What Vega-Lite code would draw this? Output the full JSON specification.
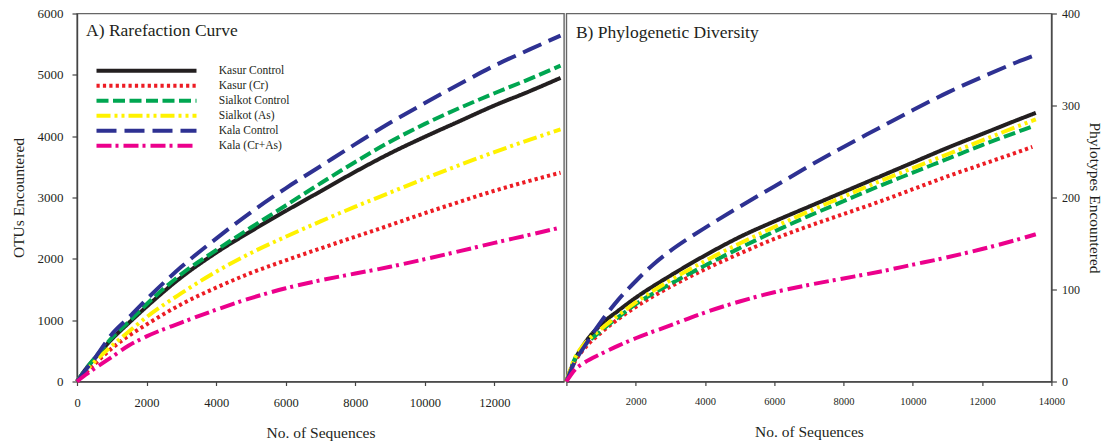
{
  "$schema": "https://vega.github.io/schema/vega-lite/v6.json",
  "background": "white",
  "padding": {"left": 10, "top": 6.5, "right": 2, "bottom": 2},
  "bounds": "flush",
  "spacing": 2.4,
  "config": {
    "view": {"stroke": "#666666", "strokeWidth": 1.4},
    "axis": {
      "labelFont": "Liberation Serif", "titleFont": "Liberation Serif",
      "labelColor": "#231f20", "titleColor": "#231f20",
      "domainColor": "#444444", "tickColor": "#444444", "domainWidth": 1.4, "tickWidth": 1.2,
      "grid": false, "titleFontWeight": "normal", "labelFontSize": 12.5, "titleFontSize": 15.5, "tickSize": 5, "format": "d", "labelFlush": false
    },
    "line": {"strokeWidth": 4, "strokeCap": "butt", "interpolate": "monotone"}
  },
  "datasets": {
    "otu": [
      {"series":"Kasur Control","seq":0,"value":0},{"series":"Kasur Control","seq":250,"value":200},{"series":"Kasur Control","seq":500,"value":370},{"series":"Kasur Control","seq":1000,"value":690},{"series":"Kasur Control","seq":1500,"value":960},{"series":"Kasur Control","seq":2000,"value":1220},{"series":"Kasur Control","seq":3000,"value":1700},{"series":"Kasur Control","seq":4000,"value":2100},{"series":"Kasur Control","seq":5000,"value":2450},{"series":"Kasur Control","seq":6000,"value":2780},{"series":"Kasur Control","seq":7000,"value":3100},{"series":"Kasur Control","seq":8000,"value":3420},{"series":"Kasur Control","seq":9000,"value":3720},{"series":"Kasur Control","seq":10000,"value":3990},{"series":"Kasur Control","seq":11000,"value":4245},{"series":"Kasur Control","seq":12000,"value":4500},{"series":"Kasur Control","seq":13000,"value":4730},{"series":"Kasur Control","seq":13900,"value":4950},
      {"series":"Kasur  (Cr)","seq":0,"value":0},{"series":"Kasur  (Cr)","seq":250,"value":140},{"series":"Kasur  (Cr)","seq":500,"value":280},{"series":"Kasur  (Cr)","seq":1000,"value":540},{"series":"Kasur  (Cr)","seq":1500,"value":750},{"series":"Kasur  (Cr)","seq":2000,"value":930},{"series":"Kasur  (Cr)","seq":3000,"value":1260},{"series":"Kasur  (Cr)","seq":4000,"value":1530},{"series":"Kasur  (Cr)","seq":5000,"value":1770},{"series":"Kasur  (Cr)","seq":6000,"value":1975},{"series":"Kasur  (Cr)","seq":7000,"value":2170},{"series":"Kasur  (Cr)","seq":8000,"value":2360},{"series":"Kasur  (Cr)","seq":9000,"value":2550},{"series":"Kasur  (Cr)","seq":10000,"value":2745},{"series":"Kasur  (Cr)","seq":11000,"value":2930},{"series":"Kasur  (Cr)","seq":12000,"value":3110},{"series":"Kasur  (Cr)","seq":13000,"value":3270},{"series":"Kasur  (Cr)","seq":13900,"value":3405},
      {"series":"Sialkot Control","seq":0,"value":0},{"series":"Sialkot Control","seq":250,"value":200},{"series":"Sialkot Control","seq":500,"value":375},{"series":"Sialkot Control","seq":1000,"value":710},{"series":"Sialkot Control","seq":1500,"value":980},{"series":"Sialkot Control","seq":2000,"value":1260},{"series":"Sialkot Control","seq":3000,"value":1750},{"series":"Sialkot Control","seq":4000,"value":2140},{"series":"Sialkot Control","seq":5000,"value":2510},{"series":"Sialkot Control","seq":6000,"value":2870},{"series":"Sialkot Control","seq":7000,"value":3230},{"series":"Sialkot Control","seq":8000,"value":3580},{"series":"Sialkot Control","seq":9000,"value":3910},{"series":"Sialkot Control","seq":10000,"value":4200},{"series":"Sialkot Control","seq":11000,"value":4460},{"series":"Sialkot Control","seq":12000,"value":4700},{"series":"Sialkot Control","seq":13000,"value":4930},{"series":"Sialkot Control","seq":13900,"value":5150},
      {"series":"Sialkot  (As)","seq":0,"value":0},{"series":"Sialkot  (As)","seq":250,"value":170},{"series":"Sialkot  (As)","seq":500,"value":320},{"series":"Sialkot  (As)","seq":1000,"value":580},{"series":"Sialkot  (As)","seq":1500,"value":820},{"series":"Sialkot  (As)","seq":2000,"value":1050},{"series":"Sialkot  (As)","seq":3000,"value":1440},{"series":"Sialkot  (As)","seq":4000,"value":1790},{"series":"Sialkot  (As)","seq":5000,"value":2095},{"series":"Sialkot  (As)","seq":6000,"value":2360},{"series":"Sialkot  (As)","seq":7000,"value":2610},{"series":"Sialkot  (As)","seq":8000,"value":2850},{"series":"Sialkot  (As)","seq":9000,"value":3080},{"series":"Sialkot  (As)","seq":10000,"value":3310},{"series":"Sialkot  (As)","seq":11000,"value":3530},{"series":"Sialkot  (As)","seq":12000,"value":3740},{"series":"Sialkot  (As)","seq":13000,"value":3940},{"series":"Sialkot  (As)","seq":13900,"value":4110},
      {"series":"Kala Control","seq":0,"value":0},{"series":"Kala Control","seq":250,"value":190},{"series":"Kala Control","seq":500,"value":370},{"series":"Kala Control","seq":1000,"value":770},{"series":"Kala Control","seq":1500,"value":1050},{"series":"Kala Control","seq":2000,"value":1340},{"series":"Kala Control","seq":3000,"value":1870},{"series":"Kala Control","seq":4000,"value":2330},{"series":"Kala Control","seq":5000,"value":2760},{"series":"Kala Control","seq":6000,"value":3150},{"series":"Kala Control","seq":7000,"value":3510},{"series":"Kala Control","seq":8000,"value":3870},{"series":"Kala Control","seq":9000,"value":4220},{"series":"Kala Control","seq":10000,"value":4540},{"series":"Kala Control","seq":11000,"value":4850},{"series":"Kala Control","seq":12000,"value":5150},{"series":"Kala Control","seq":13000,"value":5410},{"series":"Kala Control","seq":13900,"value":5640},
      {"series":"Kala (Cr+As)","seq":0,"value":0},{"series":"Kala (Cr+As)","seq":250,"value":110},{"series":"Kala (Cr+As)","seq":500,"value":210},{"series":"Kala (Cr+As)","seq":1000,"value":400},{"series":"Kala (Cr+As)","seq":1500,"value":590},{"series":"Kala (Cr+As)","seq":2000,"value":735},{"series":"Kala (Cr+As)","seq":3000,"value":960},{"series":"Kala (Cr+As)","seq":4000,"value":1170},{"series":"Kala (Cr+As)","seq":5000,"value":1360},{"series":"Kala (Cr+As)","seq":6000,"value":1520},{"series":"Kala (Cr+As)","seq":7000,"value":1650},{"series":"Kala (Cr+As)","seq":8000,"value":1760},{"series":"Kala (Cr+As)","seq":9000,"value":1870},{"series":"Kala (Cr+As)","seq":10000,"value":1995},{"series":"Kala (Cr+As)","seq":11000,"value":2125},{"series":"Kala (Cr+As)","seq":12000,"value":2260},{"series":"Kala (Cr+As)","seq":13000,"value":2390},{"series":"Kala (Cr+As)","seq":13900,"value":2510}
    ],
    "pd": [
      {"series":"Kasur Control","seq":0,"value":0},{"series":"Kasur Control","seq":250,"value":24},{"series":"Kasur Control","seq":500,"value":40},{"series":"Kasur Control","seq":1000,"value":62},{"series":"Kasur Control","seq":1500,"value":77},{"series":"Kasur Control","seq":2000,"value":91},{"series":"Kasur Control","seq":3000,"value":115},{"series":"Kasur Control","seq":4000,"value":137},{"series":"Kasur Control","seq":5000,"value":157},{"series":"Kasur Control","seq":6000,"value":174},{"series":"Kasur Control","seq":7000,"value":190},{"series":"Kasur Control","seq":8000,"value":206},{"series":"Kasur Control","seq":9000,"value":222},{"series":"Kasur Control","seq":10000,"value":238},{"series":"Kasur Control","seq":11000,"value":254},{"series":"Kasur Control","seq":12000,"value":269},{"series":"Kasur Control","seq":13000,"value":284},{"series":"Kasur Control","seq":13550,"value":292},
      {"series":"Kasur  (Cr)","seq":0,"value":0},{"series":"Kasur  (Cr)","seq":250,"value":22},{"series":"Kasur  (Cr)","seq":500,"value":35},{"series":"Kasur  (Cr)","seq":1000,"value":53},{"series":"Kasur  (Cr)","seq":1500,"value":68},{"series":"Kasur  (Cr)","seq":2000,"value":81},{"series":"Kasur  (Cr)","seq":3000,"value":103},{"series":"Kasur  (Cr)","seq":4000,"value":122},{"series":"Kasur  (Cr)","seq":5000,"value":139},{"series":"Kasur  (Cr)","seq":6000,"value":155},{"series":"Kasur  (Cr)","seq":7000,"value":169},{"series":"Kasur  (Cr)","seq":8000,"value":182},{"series":"Kasur  (Cr)","seq":9000,"value":195},{"series":"Kasur  (Cr)","seq":10000,"value":209},{"series":"Kasur  (Cr)","seq":11000,"value":223},{"series":"Kasur  (Cr)","seq":12000,"value":236},{"series":"Kasur  (Cr)","seq":13000,"value":249},{"series":"Kasur  (Cr)","seq":13450,"value":255},
      {"series":"Sialkot Control","seq":0,"value":0},{"series":"Sialkot Control","seq":250,"value":25},{"series":"Sialkot Control","seq":500,"value":38},{"series":"Sialkot Control","seq":1000,"value":55},{"series":"Sialkot Control","seq":1500,"value":70},{"series":"Sialkot Control","seq":2000,"value":84},{"series":"Sialkot Control","seq":3000,"value":106},{"series":"Sialkot Control","seq":4000,"value":126},{"series":"Sialkot Control","seq":5000,"value":145},{"series":"Sialkot Control","seq":6000,"value":163},{"series":"Sialkot Control","seq":7000,"value":180},{"series":"Sialkot Control","seq":8000,"value":196},{"series":"Sialkot Control","seq":9000,"value":212},{"series":"Sialkot Control","seq":10000,"value":227},{"series":"Sialkot Control","seq":11000,"value":242},{"series":"Sialkot Control","seq":12000,"value":257},{"series":"Sialkot Control","seq":13000,"value":271},{"series":"Sialkot Control","seq":13500,"value":278},
      {"series":"Sialkot  (As)","seq":0,"value":0},{"series":"Sialkot  (As)","seq":250,"value":26},{"series":"Sialkot  (As)","seq":500,"value":40},{"series":"Sialkot  (As)","seq":1000,"value":57},{"series":"Sialkot  (As)","seq":1500,"value":72},{"series":"Sialkot  (As)","seq":2000,"value":86},{"series":"Sialkot  (As)","seq":3000,"value":110},{"series":"Sialkot  (As)","seq":4000,"value":131},{"series":"Sialkot  (As)","seq":5000,"value":150},{"series":"Sialkot  (As)","seq":6000,"value":168},{"series":"Sialkot  (As)","seq":7000,"value":185},{"series":"Sialkot  (As)","seq":8000,"value":201},{"series":"Sialkot  (As)","seq":9000,"value":217},{"series":"Sialkot  (As)","seq":10000,"value":232},{"series":"Sialkot  (As)","seq":11000,"value":247},{"series":"Sialkot  (As)","seq":12000,"value":262},{"series":"Sialkot  (As)","seq":13000,"value":277},{"series":"Sialkot  (As)","seq":13550,"value":285},
      {"series":"Kala Control","seq":0,"value":0},{"series":"Kala Control","seq":250,"value":22},{"series":"Kala Control","seq":500,"value":37},{"series":"Kala Control","seq":1000,"value":65},{"series":"Kala Control","seq":1500,"value":89},{"series":"Kala Control","seq":2000,"value":109},{"series":"Kala Control","seq":2500,"value":127},{"series":"Kala Control","seq":3000,"value":142},{"series":"Kala Control","seq":3500,"value":155},{"series":"Kala Control","seq":4000,"value":167},{"series":"Kala Control","seq":5000,"value":190},{"series":"Kala Control","seq":6000,"value":212},{"series":"Kala Control","seq":7000,"value":234},{"series":"Kala Control","seq":8000,"value":255},{"series":"Kala Control","seq":9000,"value":275},{"series":"Kala Control","seq":10000,"value":295},{"series":"Kala Control","seq":11000,"value":314},{"series":"Kala Control","seq":12000,"value":331},{"series":"Kala Control","seq":13000,"value":347},{"series":"Kala Control","seq":13550,"value":355},
      {"series":"Kala (Cr+As)","seq":0,"value":0},{"series":"Kala (Cr+As)","seq":250,"value":13},{"series":"Kala (Cr+As)","seq":500,"value":20},{"series":"Kala (Cr+As)","seq":1000,"value":30},{"series":"Kala (Cr+As)","seq":1500,"value":39},{"series":"Kala (Cr+As)","seq":2000,"value":47},{"series":"Kala (Cr+As)","seq":3000,"value":61},{"series":"Kala (Cr+As)","seq":4000,"value":75},{"series":"Kala (Cr+As)","seq":5000,"value":87},{"series":"Kala (Cr+As)","seq":6000,"value":97},{"series":"Kala (Cr+As)","seq":7000,"value":105},{"series":"Kala (Cr+As)","seq":8000,"value":112},{"series":"Kala (Cr+As)","seq":9000,"value":119},{"series":"Kala (Cr+As)","seq":10000,"value":127},{"series":"Kala (Cr+As)","seq":11000,"value":135},{"series":"Kala (Cr+As)","seq":12000,"value":144},{"series":"Kala (Cr+As)","seq":13000,"value":154},{"series":"Kala (Cr+As)","seq":13550,"value":160}
    ]
  },
  "resolve": {
    "scale": {"x": "independent", "y": "independent", "color": "independent", "strokeDash": "independent"},
    "legend": {"color": "independent", "strokeDash": "independent"}
  },
  "hconcat": [
    {
      "width": 487, "height": 368,
      "layer": [
        {
          "data": {"name": "otu"},
          "mark": {"type": "line", "strokeWidth": 4},
          "encoding": {
            "x": {"field": "seq", "type": "quantitative", "scale": {"domain": [0, 14000], "nice": false},
                  "axis": {"values": [0, 2000, 4000, 6000, 8000, 10000, 12000], "title": "No. of Sequences", "titlePadding": 16, "labelPadding": 11, "tickSize": 4}},
            "y": {"field": "value", "type": "quantitative", "scale": {"domain": [0, 6000], "nice": false},
                  "axis": {"values": [0, 1000, 2000, 3000, 4000, 5000, 6000], "title": "OTUs Encountered", "titlePadding": 11, "labelPadding": 9, "labelFontSize": 13}},
            "color": {"field": "series", "type": "nominal",
              "scale": {"domain": ["Kasur Control", "Kasur  (Cr)", "Sialkot Control", "Sialkot  (As)", "Kala Control", "Kala (Cr+As)"],
                        "range": ["#231f20", "#ed1c24", "#00a651", "#fff200", "#2e3192", "#ec008c"]},
              "legend": {"title": null, "orient": "none", "legendX": 19, "legendY": 51.5, "padding": 0,
                "symbolType": "M-50,0H50", "symbolSize": 4, "symbolStrokeWidth": 4, "symbolOffset": 44.75,
                "labelOffset": 66.5, "labelFont": "Liberation Serif", "labelFontSize": 11.5, "labelColor": "#231f20",
                "rowPadding": -2.0, "labelLimit": 300}},
            "strokeDash": {"field": "series", "type": "nominal",
              "scale": {"domain": ["Kasur Control", "Kasur  (Cr)", "Sialkot Control", "Sialkot  (As)", "Kala Control", "Kala (Cr+As)"],
                        "range": [[1, 0], [3.2, 3.2], [12, 4.5], [14, 4, 3, 4, 3, 4], [20, 8], [15, 4, 3, 5]]},
              "legend": {"title": null, "orient": "none", "legendX": 19, "legendY": 51.5, "padding": 0,
                "symbolType": "M-50,0H50", "symbolSize": 4, "symbolStrokeWidth": 4, "symbolOffset": 44.75,
                "labelOffset": 66.5, "labelFont": "Liberation Serif", "labelFontSize": 11.5, "labelColor": "#231f20",
                "rowPadding": -2.0, "labelLimit": 300}}
          }
        },
        {
          "data": {"values": [{"label": "A) Rarefaction Curve"}]},
          "mark": {"type": "text", "align": "left", "baseline": "middle", "font": "Liberation Serif", "fontSize": 17.5, "color": "#231f20"},
          "encoding": {
            "x": {"datum": 260, "type": "quantitative"},
            "y": {"datum": 5714, "type": "quantitative"},
            "text": {"field": "label"}
          }
        }
      ]
    },
    {
      "width": 485, "height": 368,
      "layer": [
        {
          "data": {"name": "pd"},
          "mark": {"type": "line", "strokeWidth": 4},
          "encoding": {
            "x": {"field": "seq", "type": "quantitative", "scale": {"domain": [0, 14000], "nice": false},
                  "axis": {"values": [0, 2000, 4000, 6000, 8000, 10000, 12000, 14000], "labelExpr": "datum.value == 0 ? '' : datum.label", "labelFontSize": 10.5, "title": "No. of Sequences", "titlePadding": 17, "labelPadding": 11, "tickSize": 4}},
            "y": {"field": "value", "type": "quantitative", "scale": {"domain": [0, 400], "nice": false},
                  "axis": {"orient": "right", "values": [0, 100, 200, 300, 400], "title": "Phylotypes Encountered", "titlePadding": 7, "labelPadding": 5, "labelFontSize": 12}},
            "color": {"field": "series", "type": "nominal",
              "scale": {"domain": ["Kasur Control", "Kasur  (Cr)", "Sialkot Control", "Sialkot  (As)", "Kala Control", "Kala (Cr+As)"],
                        "range": ["#231f20", "#ed1c24", "#00a651", "#fff200", "#2e3192", "#ec008c"]},
              "legend": null},
            "strokeDash": {"field": "series", "type": "nominal",
              "scale": {"domain": ["Kasur Control", "Kasur  (Cr)", "Sialkot Control", "Sialkot  (As)", "Kala Control", "Kala (Cr+As)"],
                        "range": [[1, 0], [3.2, 3.2], [12, 4.5], [14, 4, 3, 4, 3, 4], [20, 8], [15, 4, 3, 5]]},
              "legend": null}
          }
        },
        {
          "data": {"values": [{"label": "B) Phylogenetic Diversity"}]},
          "mark": {"type": "text", "align": "left", "baseline": "middle", "font": "Liberation Serif", "fontSize": 17.5, "color": "#231f20"},
          "encoding": {
            "x": {"datum": 275, "type": "quantitative"},
            "y": {"datum": 379, "type": "quantitative"},
            "text": {"field": "label"}
          }
        }
      ]
    }
  ]
}
